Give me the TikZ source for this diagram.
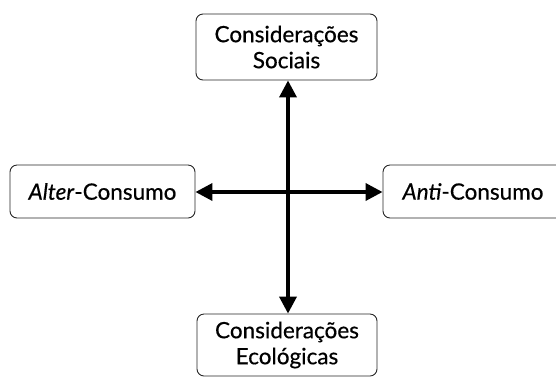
\documentclass[tikz,border=0pt]{standalone}
\usepackage{fontspec}
\setmainfont{Lato}[FakeBold=0.5,AutoFakeBold=0.5]
\usetikzlibrary{arrows.meta}
\begin{document}
\begin{tikzpicture}[x=1pt,y=-1pt,
  box/.style={draw=black!85,line width=0.9pt,rounded corners=7pt,fill=white,
    inner sep=0pt,align=center,text=black,
    font=\fontsize{22.5}{26}\selectfont\bfseries},
  arr/.style={line width=3.6pt,-{Triangle[length=17pt,width=17pt]}}]
\useasboundingbox (0,0) rectangle (556,376);
\node[box,minimum width=181pt,minimum height=66pt] (soc) at (286.5,47) {Considerações\\Sociais};
\node[box,minimum width=185pt,minimum height=53pt] (alt) at (102.5,191.5) {\textit{Alter}-Consumo};
\node[box,minimum width=180pt,minimum height=53pt] (anti) at (473,191.5) {\textit{Anti}-Consumo};
\node[box,minimum width=180pt,minimum height=62pt] (eco) at (287,345) {Considerações\\Ecológicas};
\coordinate (c) at (288,192);
\draw[arr] (c) -- (c |- soc.south);
\draw[arr] (c) -- (c |- eco.north);
\draw[arr] (c) -- (c -| alt.east);
\draw[arr] (c) -- (c -| anti.west);
\end{tikzpicture}
\end{document}
